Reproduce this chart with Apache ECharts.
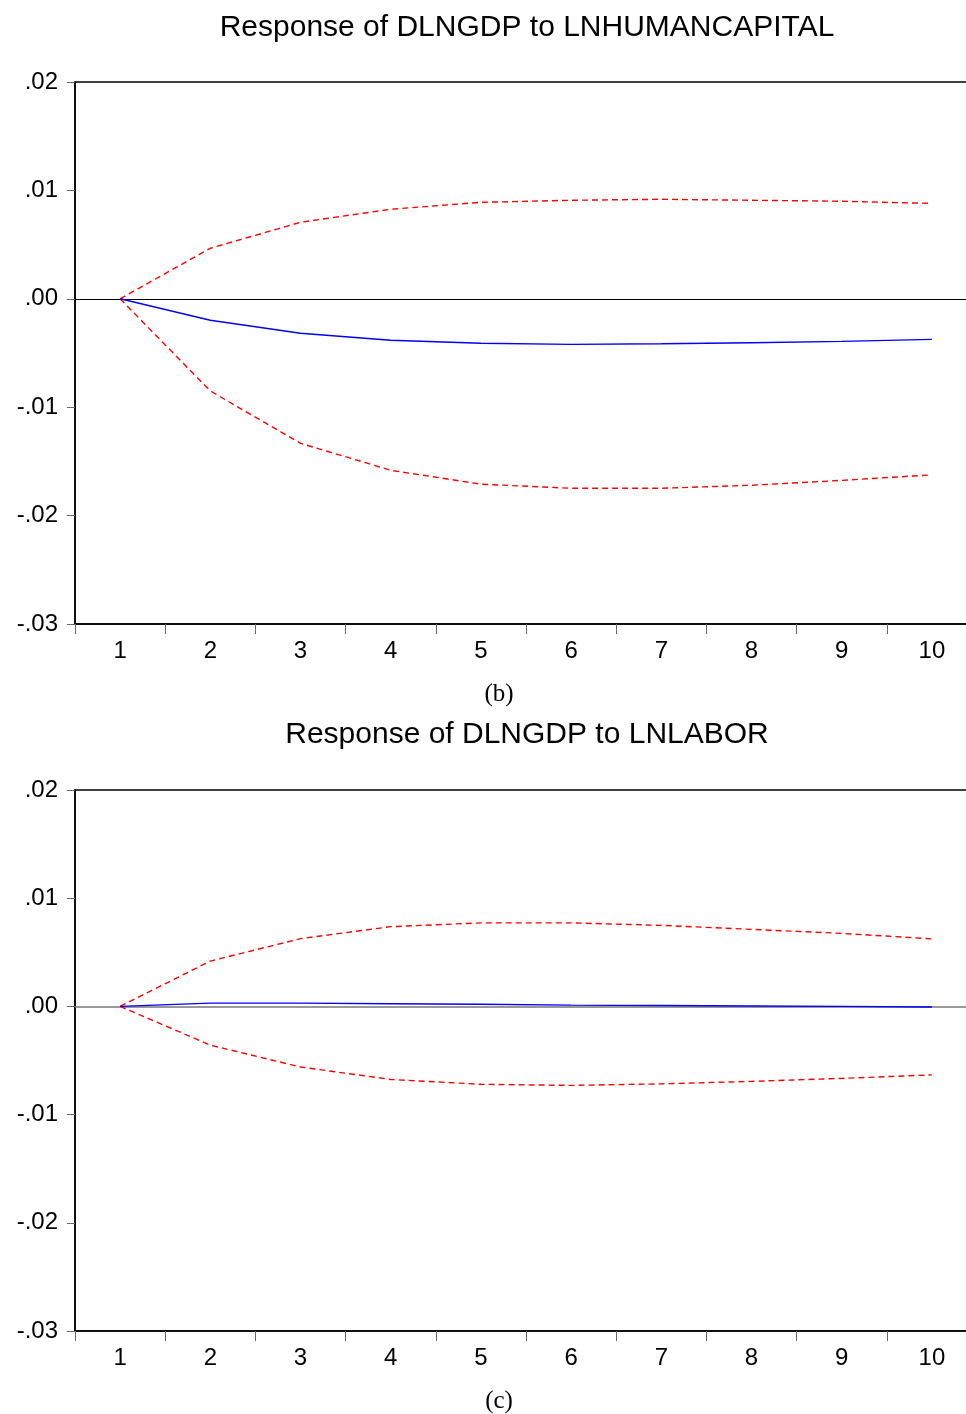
<!DOCTYPE html>
<html>
<head>
<meta charset="utf-8">
<script src="https://cdn.jsdelivr.net/npm/echarts@6/dist/echarts.min.js"></script>
<style>html,body{margin:0;padding:0;background:#fff;}#c{width:966px;height:1414px;}</style>
</head>
<body>
<div id="c"></div>
<script>
var periods = ['1','2','3','4','5','6','7','8','9','10'];
var yTickLabels = {'0.02':'.02','0.01':'.01','0':'.00','-0.01':'-.01','-0.02':'-.02','-0.03':'-.03'};

// Panel (b): Response of DLNGDP to LNHUMANCAPITAL
var hcResp  = [0, -0.00198, -0.00318, -0.00383, -0.0041, -0.0042, -0.00415, -0.00405, -0.00393, -0.00374];
var hcUpper = [0, 0.00466, 0.00706, 0.00826, 0.0089, 0.00909, 0.00918, 0.00909, 0.009, 0.0088];
var hcLower = [0, -0.0085, -0.01333, -0.01582, -0.0171, -0.01748, -0.01748, -0.0172, -0.01675, -0.01624];

// Panel (c): Response of DLNGDP to LNLABOR
var lbResp  = [0, 0.0003, 0.0003, 0.00025, 0.0002, 0.00012, 0.00008, 0.00004, 0.0, -0.00005];
var lbUpper = [0, 0.00419, 0.00626, 0.00737, 0.00772, 0.00772, 0.00749, 0.00712, 0.00675, 0.00624];
var lbLower = [0, -0.00358, -0.0056, -0.00675, -0.0072, -0.0073, -0.00716, -0.00693, -0.00665, -0.00633];

var sans = 'Liberation Sans, Arial, sans-serif';
function fmtY(v){ var k = String(Math.round(v*100)/100); return yTickLabels[k] !== undefined ? yTickLabels[k] : k; }

function xAx(i){
  return {type:'category', gridIndex:i, data:periods, boundaryGap:true,
    axisLine:{show:true, onZero:false, lineStyle:{color:'#000', width:1.5}},
    axisTick:{show:true, length:10, lineStyle:{color:'#666', width:1}},
    axisLabel:{color:'#000', fontFamily:sans, fontSize:24, margin:15},
    splitLine:{show:false}};
}
function yAx(i){
  return {type:'value', gridIndex:i, min:-0.03, max:0.02, interval:0.01,
    axisLine:{show:true, lineStyle:{color:'#000', width:1.5}},
    axisTick:{show:true, length:8, lineStyle:{color:'#666', width:1}},
    axisLabel:{color:'#000', fontFamily:sans, fontSize:24, margin:17, formatter:fmtY},
    splitLine:{show:false}};
}
function ser(i, data, color, dashed, zeroColor){
  var s = {type:'line', xAxisIndex:i, yAxisIndex:i, data:data, symbol:'none', smooth:false,
    lineStyle:{color:color, width:1.4, type: dashed ? [6,4] : 'solid'}, z: dashed ? 4 : 5};
  if(zeroColor){
    s.markLine = {silent:true, symbol:'none', label:{show:false},
      lineStyle:{color:zeroColor, width: zeroColor==='#000' ? 1 : 1.6, type:'solid'},
      data:[{yAxis:0}], z:2};
  }
  return s;
}

var chart = echarts.init(document.getElementById('c'), null, {renderer:'canvas'});
chart.setOption({
  animation:false,
  backgroundColor:'#fff',
  title:[
    {text:'Response of DLNGDP to LNHUMANCAPITAL', left:'522', textAlign:'center', top:8,
     textStyle:{fontFamily:sans, fontSize:30, fontWeight:'normal', color:'#000'}},
    {text:'(b)', left:'494', textAlign:'center', top:677,
     textStyle:{fontFamily:'Liberation Serif, Times New Roman, serif', fontSize:25, fontWeight:'normal', color:'#000'}},
    {text:'Response of DLNGDP to LNLABOR', left:'522', textAlign:'center', top:715,
     textStyle:{fontFamily:sans, fontSize:30, fontWeight:'normal', color:'#000'}},
    {text:'(c)', left:'494', textAlign:'center', top:1384,
     textStyle:{fontFamily:'Liberation Serif, Times New Roman, serif', fontSize:25, fontWeight:'normal', color:'#000'}}
  ],
  grid:[
    {left:75, top:82, height:542, width:902, outerBoundsMode:'none', containLabel:false, show:true, borderColor:'#000', borderWidth:1.5, backgroundColor:'transparent'},
    {left:75, top:790, height:541, width:902, outerBoundsMode:'none', containLabel:false, show:true, borderColor:'#000', borderWidth:1.5, backgroundColor:'transparent'}
  ],
  xAxis:[xAx(0), xAx(1)],
  yAxis:[yAx(0), yAx(1)],
  series:[
    ser(0, hcResp, '#0000ff', false, '#000'),
    ser(0, hcUpper, '#ff0000', true),
    ser(0, hcLower, '#ff0000', true),
    ser(1, lbResp, '#0000ff', false, '#777'),
    ser(1, lbUpper, '#ff0000', true),
    ser(1, lbLower, '#ff0000', true)
  ]
});
</script>
</body>
</html>
